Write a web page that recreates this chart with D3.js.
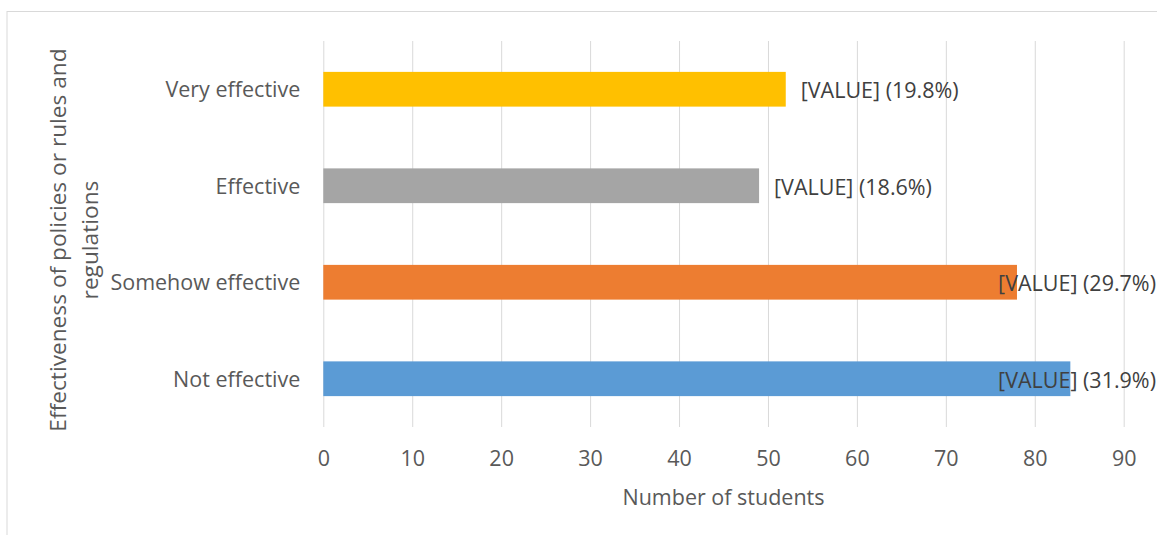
<!DOCTYPE html>
<html>
<head>
<meta charset="utf-8">
<script src="https://cdn.jsdelivr.net/npm/d3@7"></script>
<style>
  body { margin: 0; background: #fff; }
  svg, svg text { font-family: "Open Sans", sans-serif; }
</style>
</head>
<body>
<div id="chart"></div>
<script>
// data
const categories = ['Not effective', 'Somehow effective', 'Effective', 'Very effective'];
const values = [84, 78, 49, 52];
const percents = ['31.9%', '29.7%', '18.6%', '19.8%'];
const colors = ['#5B9BD5', '#ED7D31', '#A5A5A5', '#FFC000'];
const xTicks = [0, 10, 20, 30, 40, 50, 60, 70, 80, 90];

const W = 1157, H = 535;
const margin = { top: 41, bottom: 108, left: 323.3 };
const width = 1123.7 - margin.left;
const height = H - margin.top - margin.bottom;
const chartRight = 1156;
const fs = '21.5px';

const svg = d3.select('#chart').append('svg')
  .attr('width', W)
  .attr('height', H);

// chart border
svg.append('rect')
  .attr('x', 7).attr('y', 11.5)
  .attr('width', W + 10).attr('height', H + 10)
  .attr('fill', 'none')
  .attr('stroke', '#d9d9d9');

const g = svg.append('g')
  .attr('transform', `translate(${margin.left},${margin.top})`);

const x = d3.scaleLinear().domain([0, 90]).range([0, width]);
const y = d3.scaleBand()
  .domain(categories.slice().reverse())
  .range([0, height])
  .paddingInner(0.64)
  .paddingOuter(0.32);

// gridlines + tick labels
const xAxis = g.append('g')
  .attr('transform', `translate(0,${height})`)
  .call(d3.axisBottom(x).tickValues(xTicks).tickSize(-height).tickPadding(24))
  .attr('font-family', null);
xAxis.select('.domain').remove();
xAxis.selectAll('line').attr('stroke', '#d9d9d9').attr('stroke-width', 1);
xAxis.selectAll('text').attr('fill', '#595959').attr('font-size', fs);

const yAxis = g.append('g')
  .call(d3.axisLeft(y).tickSize(0).tickPadding(23))
  .attr('font-family', null);
yAxis.select('.domain').remove();
yAxis.selectAll('text').attr('fill', '#595959').attr('font-size', fs).attr('dy', '0.37em');

const rows = categories.map((c, i) => ({ c, v: values[i], p: percents[i], color: colors[i] }));

g.selectAll('.bar')
  .data(rows)
  .enter()
  .append('rect')
  .attr('class', 'bar')
  .attr('x', x(0))
  .attr('y', d => y(d.c))
  .attr('width', d => x(d.v) - x(0))
  .attr('height', y.bandwidth())
  .attr('fill', d => d.color);

g.selectAll('.label')
  .data(rows)
  .enter()
  .append('text')
  .attr('class', 'label')
  .attr('y', d => y(d.c) + y.bandwidth() / 2)
  .attr('dy', '0.43em')
  .attr('fill', '#404040')
  .attr('font-size', fs)
  .text(d => `[VALUE] (${d.p})`)
  .attr('x', function(d) {
    const w = this.getComputedTextLength();
    const want = x(d.v) + 15;
    return Math.min(want, chartRight - margin.left - w);
  });

// axis titles
svg.append('text')
  .attr('x', margin.left + width / 2)
  .attr('y', 505)
  .attr('text-anchor', 'middle')
  .attr('fill', '#595959')
  .attr('font-size', fs)
  .text('Number of students');

const yt = svg.append('text')
  .attr('transform', 'translate(0,240) rotate(-90)')
  .attr('text-anchor', 'middle')
  .attr('fill', '#595959')
  .attr('font-size', '22.7px');
yt.append('tspan').attr('x', 0).attr('y', 66).text('Effectiveness of policies or rules and');
yt.append('tspan').attr('x', 0).attr('y', 98).text('regulations');
</script>
</body>
</html>
